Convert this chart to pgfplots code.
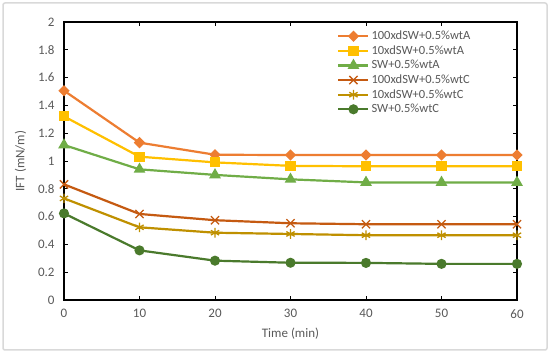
\documentclass[border=0pt]{standalone}
\usepackage{pgfplots}
\pgfplotsset{compat=1.18}
\usepackage{fontspec}
\setmainfont{Carlito}
\usetikzlibrary{plotmarks}
\definecolor{cA1}{HTML}{ED7D31}
\definecolor{cA2}{HTML}{FFC000}
\definecolor{cA3}{HTML}{70AD47}
\definecolor{cC1}{HTML}{C55A11}
\definecolor{cC2}{HTML}{BF9000}
\definecolor{cC3}{HTML}{4A7A2C}
\definecolor{tgray}{HTML}{595959}
\begin{document}
\begin{tikzpicture}
\path[fill=white] (0bp,0bp) rectangle (550bp,353bp);
\draw[color=black!15, line width=1.5bp, rounded corners=2bp] (3bp,3bp) rectangle (547bp,350bp);
\begin{axis}[
  at={(64bp,53bp)}, anchor=south west,
  scale only axis, width=453bp, height=278bp,
  xmin=0, xmax=60, ymin=0, ymax=2,
  xtick={0,10,...,60}, ytick={0,0.2,...,2.0},
  yticklabels={0,0.2,0.4,0.6,0.8,1,1.2,1.4,1.6,1.8,2},
  tick align=inside, major tick length=4bp,
  tick style={black, line width=0.8bp},
  axis line style={black, line width=1.2bp},
  clip=false,
  ticklabel style={font=\fontsize{13bp}{15bp}\selectfont, text=tgray},
  /pgf/number format/assume math mode=true,
  xticklabel style={yshift=-6bp},
  yticklabel style={xshift=-6bp},
  xlabel={Time (min)}, ylabel={IFT (mN/m)},
  label style={font=\fontsize{13bp}{15bp}\selectfont, text=tgray},
  xlabel style={yshift=-3bp},
  ylabel style={yshift=5bp},
  every axis plot/.append style={line width=2.2bp},
  legend style={draw=none, fill=none, at={(0.603,0.975)}, anchor=north west,
    font=\fontsize{12.5bp}{15bp}\selectfont, text=tgray,
    row sep=0.5bp, inner sep=0pt, cells={anchor=west}},
  legend image code/.code={\draw[mark repeat=2,mark phase=2] plot coordinates {(0bp,0bp) (15bp,0bp) (30bp,0bp)};},
]
\addplot[color=cA1, mark=square*, mark size=2.9bp, mark options={solid, rotate=45}] coordinates {(0,1.506) (10,1.132) (20,1.045) (30,1.043) (40,1.043) (50,1.043) (60,1.043)};
\addlegendentry{100xdSW+0.5\%wtA}
\addplot[color=cA2, mark=square*, mark size=4bp] coordinates {(0,1.321) (10,1.031) (20,0.99) (30,0.965) (40,0.962) (50,0.962) (60,0.962)};
\addlegendentry{10xdSW+0.5\%wtA}
\addplot[color=cA3, mark=triangle*, mark size=4.6bp] coordinates {(0,1.115) (10,0.94) (20,0.90) (30,0.868) (40,0.846) (50,0.846) (60,0.846)};
\addlegendentry{SW+0.5\%wtA}
\addplot[color=cC1, mark=x, mark size=5.8bp, mark options={line width=1.3bp}] coordinates {(0,0.832) (10,0.619) (20,0.574) (30,0.552) (40,0.545) (50,0.545) (60,0.545)};
\addlegendentry{100xdSW+0.5\%wtC}
\addplot[color=cC2, mark=asterisk, mark size=4.8bp, mark options={line width=1.3bp}] coordinates {(0,0.731) (10,0.523) (20,0.484) (30,0.475) (40,0.466) (50,0.466) (60,0.466)};
\addlegendentry{10xdSW+0.5\%wtC}
\addplot[color=cC3, mark=*, mark size=3.9bp] coordinates {(0,0.623) (10,0.357) (20,0.283) (30,0.268) (40,0.267) (50,0.260) (60,0.260)};
\addlegendentry{SW+0.5\%wtC}
\end{axis}
\end{tikzpicture}
\end{document}
